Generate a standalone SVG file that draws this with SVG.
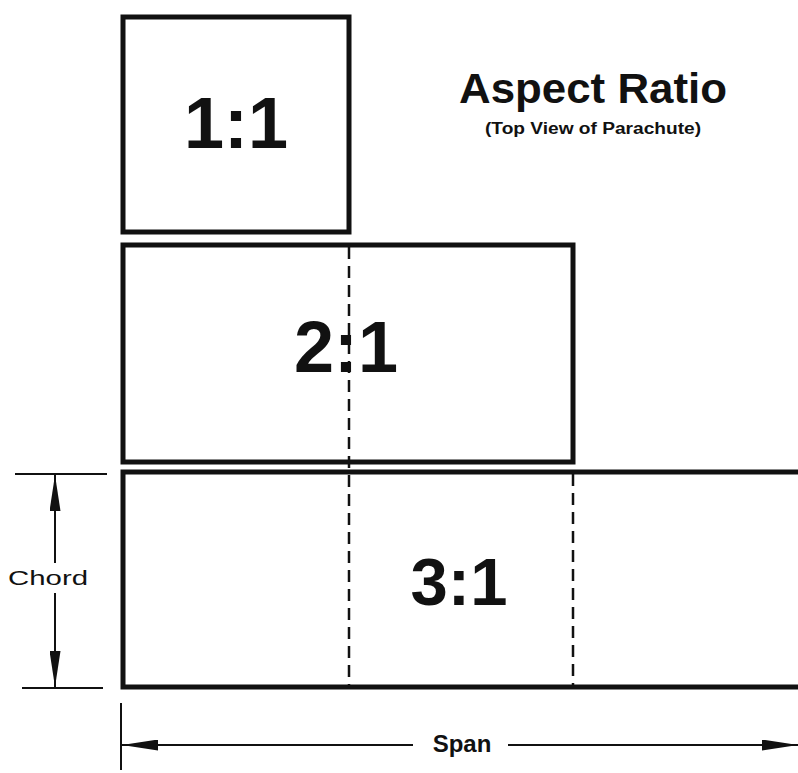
<svg xmlns="http://www.w3.org/2000/svg" width="798" height="773" viewBox="0 0 798 773">
<style>
.box{fill:none;stroke:#111;stroke-width:5}
.dash{stroke:#111;stroke-width:2.5;stroke-dasharray:12 7;fill:none}
.thin{stroke:#111;stroke-width:2;fill:none}
.big{font-family:"Liberation Sans",Arial,sans-serif;font-weight:bold;fill:#111;text-anchor:middle}
.lbl{font-family:"Liberation Sans",Arial,sans-serif;fill:#111;text-anchor:middle}
</style>
<defs>
<marker id="ah" viewBox="0 0 36 11" refX="36" refY="5.5" markerWidth="36" markerHeight="11" markerUnits="userSpaceOnUse" orient="auto">
<path d="M0,0 L36,5.5 L0,11 Z" fill="#111"/>
</marker>
</defs>
<rect width="798" height="773" fill="#fff"/>
<g id="title">
<text class="big" x="593" y="103" font-size="43" textLength="268" lengthAdjust="spacingAndGlyphs">Aspect Ratio</text>
<text class="big" x="593" y="134" font-size="16" textLength="216" lengthAdjust="spacingAndGlyphs">(Top View of Parachute)</text>
</g>
<g id="connectors">
<line class="dash" x1="349" y1="247" x2="349" y2="686"/>
<line class="dash" x1="573" y1="474" x2="573" y2="686"/>
<line class="thin" x1="15" y1="474" x2="107" y2="474"/>
<line class="thin" x1="22" y1="688" x2="103" y2="688"/>
<line class="thin" x1="55" y1="563" x2="55" y2="475" marker-end="url(#ah)"/>
<line class="thin" x1="55" y1="593" x2="55" y2="687" marker-end="url(#ah)"/>
<line class="thin" x1="121" y1="703" x2="121" y2="770"/>
<line class="thin" x1="413" y1="745" x2="122" y2="745" marker-end="url(#ah)"/>
<line class="thin" x1="508" y1="745" x2="798" y2="745" marker-end="url(#ah)"/>
</g>
<g id="node-1-1">
<rect class="box" x="123" y="17" width="226" height="215"/>
<text class="big" x="236" y="148" font-size="72">1:1</text>
</g>
<g id="node-2-1">
<rect class="box" x="123" y="245" width="450" height="217"/>
<text class="big" x="346" y="372" font-size="72">2:1</text>
</g>
<g id="node-3-1">
<path class="box" d="M802,472 H123 V687 H802"/>
<text class="big" x="459" y="605" font-size="67">3:1</text>
</g>
<g id="chord-label">
<text class="lbl" x="48" y="585" font-size="21" textLength="80" lengthAdjust="spacingAndGlyphs">Chord</text>
</g>
<g id="span-label">
<text class="big" x="462" y="752" font-size="24">Span</text>
</g>
</svg>
